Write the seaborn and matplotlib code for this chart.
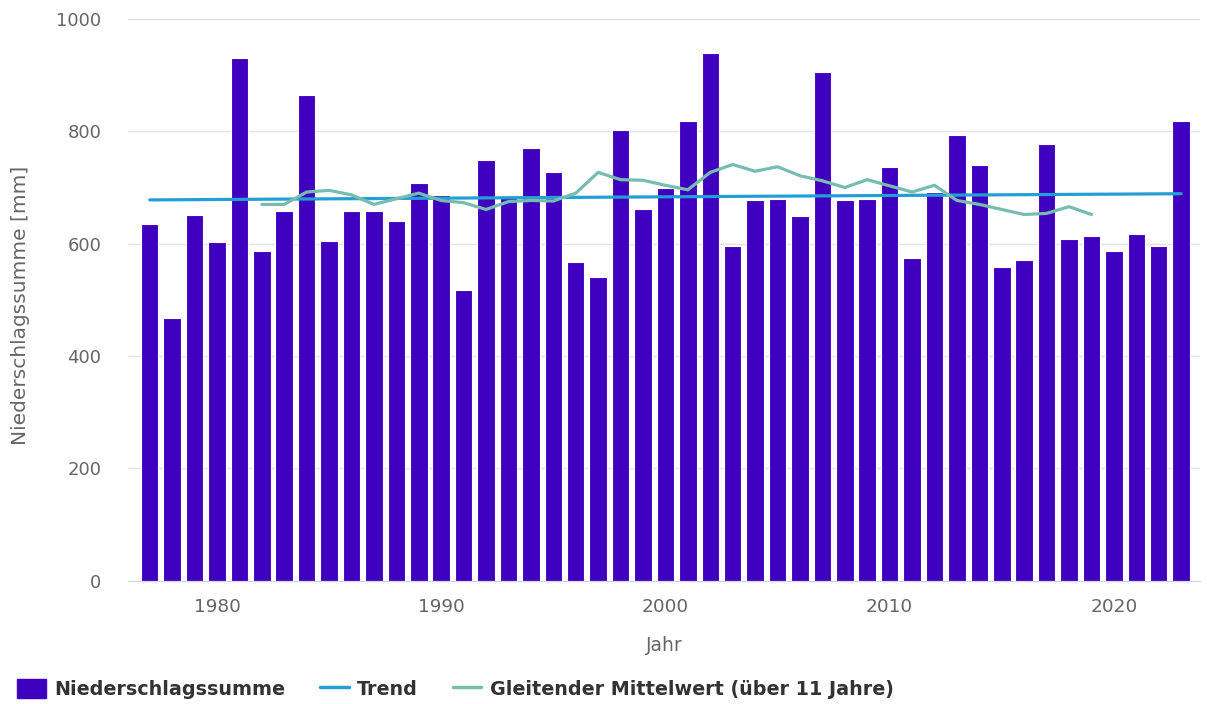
import numpy as np
import pandas as pd
import seaborn as sns
import matplotlib.pyplot as plt
from matplotlib.patches import Patch
from matplotlib.lines import Line2D

# data
jahre = list(range(1977, 2024))
niederschlag = [636, 468, 652, 603, 930, 587, 658, 865, 605, 658,
                658, 640, 708, 687, 518, 749, 681, 771, 727, 567,
                540, 802, 661, 699, 818, 939, 596, 677, 680, 649,
                905, 677, 680, 737, 574, 692, 793, 740, 558, 571,
                777, 609, 614, 587, 618, 596, 818]

trend_jahre = [1977, 2023]
trend_werte = [678, 689]

mittel_jahre = list(range(1982, 2020))
mittel_werte = [670, 670, 692, 695, 687, 670, 680, 690, 677, 673,
                661, 675, 677, 676, 690, 727, 714, 713, 704, 696,
                727, 741, 729, 737, 721, 712, 700, 714, 703, 692,
                704, 677, 670, 661, 652, 654, 666, 652]

bar_farbe = '#4000bf'
trend_farbe = '#239fd6'
mittel_farbe = '#76bdb0'
grau = '#666666'

sns.set_style('white')
plt.rcParams['font.family'] = ['DejaVu Sans']

df = pd.DataFrame({'Jahr': jahre, 'Wert': niederschlag})

fig = plt.figure(figsize=(12.07, 7.04), dpi=100)
ax = fig.add_axes([0.106, 0.175, 0.888, 0.798])

sns.barplot(data=df, x='Jahr', y='Wert', native_scale=True, width=0.78,
            color=bar_farbe, saturation=1, edgecolor='white', linewidth=0.8, ax=ax)
sns.lineplot(x=trend_jahre, y=trend_werte, color=trend_farbe, linewidth=2.3, ax=ax)
sns.lineplot(x=mittel_jahre, y=mittel_werte, color=mittel_farbe, linewidth=2.3, ax=ax)

ax.set_xlim(1976.03, 2023.83)
ax.set_ylim(0, 1000)
ax.set_yticks([0, 200, 400, 600, 800, 1000])
ax.set_xticks([1980, 1990, 2000, 2010, 2020])
ax.yaxis.grid(True, color='#e3e3e3', linewidth=1)
ax.set_axisbelow(True)
for s in ['top', 'right', 'left']:
    ax.spines[s].set_visible(False)
ax.spines['bottom'].set_color('#ccd6eb')
ax.tick_params(axis='y', length=0, labelsize=13, labelcolor=grau, pad=19)
ax.tick_params(axis='x', length=7.5, color='#ccd6eb', labelsize=13.3, labelcolor=grau, pad=5)

ax.set_xlabel('Jahr', fontsize=13.5, color=grau, labelpad=14)
ax.set_ylabel('Niederschlagssumme [mm]', fontsize=14.5, color=grau)
ax.yaxis.set_label_coords(-0.091, 0.49)

handles = [Patch(facecolor=bar_farbe, edgecolor=bar_farbe),
           Line2D([0], [0], color=trend_farbe, linewidth=2.5),
           Line2D([0], [0], color=mittel_farbe, linewidth=2.5)]
labels = ['Niederschlagssumme', 'Trend', 'Gleitender Mittelwert (über 11 Jahre)']
leg = fig.legend(handles, labels, loc='center left', bbox_to_anchor=(0.014, 0.0213),
                 ncol=3, frameon=False, handlelength=1.5, handleheight=1.1,
                 columnspacing=1.8, handletextpad=0.45, borderpad=0, borderaxespad=0,
                 prop={'size': 13.8, 'weight': 'bold'})
for t in leg.get_texts():
    t.set_color('#333333')

fig.savefig('out.png', dpi=100)
